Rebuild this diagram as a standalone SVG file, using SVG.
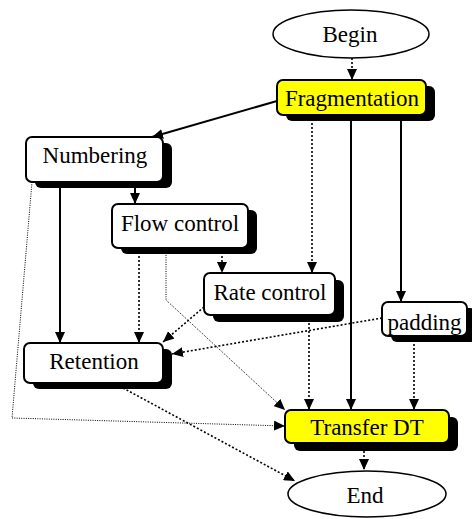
<svg xmlns="http://www.w3.org/2000/svg" width="472" height="519" viewBox="0 0 472 519">
  <style>
    text { font-family: 'Liberation Serif', 'DejaVu Serif', serif; font-size: 23px; fill: #000; text-anchor: middle; }
    .box { fill: #fff; stroke: #000; stroke-width: 2; }
    .hl { fill: #ffff00; }
    .shadow { fill: #000; stroke: none; }
    .term { fill: #fff; stroke: #000; stroke-width: 1.5; }
    .solid { fill: none; stroke: #000; stroke-width: 2; }
    .dot { fill: none; stroke: #000; stroke-width: 1.6; stroke-dasharray: 2 2; }
    .thin { fill: none; stroke: #000; stroke-width: 1; stroke-dasharray: 1 1.3; }
  </style>
  <defs>
    <marker id="arrow" markerUnits="userSpaceOnUse" markerWidth="11" markerHeight="10" refX="11" refY="5" orient="auto">
      <path d="M0,0 L11,5 L0,10 z" fill="#000"/>
    </marker>
  </defs>
  <rect width="472" height="519" fill="#fff"/>

  <!-- connectors -->
  <g id="connectors">
    <path class="dot" d="M352,58 L352,80" marker-end="url(#arrow)"/>
    <path class="solid" d="M277,101 L152,137" marker-end="url(#arrow)"/>
    <path class="dot" d="M312,115 L312,273" marker-end="url(#arrow)"/>
    <path class="solid" d="M351,115 L351,410" marker-end="url(#arrow)"/>
    <path class="solid" d="M401,115 L401,302" marker-end="url(#arrow)"/>
    <path class="solid" d="M135,182 L135,204" marker-end="url(#arrow)"/>
    <path class="solid" d="M60,182 L60,343" marker-end="url(#arrow)"/>
    <path class="thin" d="M32,182 L12,418 L285,426" marker-end="url(#arrow)"/>
    <path class="dot" d="M222,248 L222,273" marker-end="url(#arrow)"/>
    <path class="dot" d="M139,248 L139,343" marker-end="url(#arrow)"/>
    <path class="thin" d="M166,248 L166,300 L285,410" marker-end="url(#arrow)"/>
    <path class="dot" d="M204,307 L163,342" marker-end="url(#arrow)"/>
    <path class="dot" d="M309,315 L309,410" marker-end="url(#arrow)"/>
    <path class="dot" d="M382,318 L172,354" marker-end="url(#arrow)"/>
    <path class="dot" d="M414,336 L414,410" marker-end="url(#arrow)"/>
    <path class="dot" d="M123,388 L295,481" marker-end="url(#arrow)"/>
    <path class="dot" d="M364,443 L364,470" marker-end="url(#arrow)"/>
  </g>

  <!-- nodes -->
  <g id="begin">
    <ellipse class="term" cx="351" cy="34" rx="78" ry="24"/>
    <text x="350" y="42">Begin</text>
  </g>

  <g id="fragmentation">
    <rect class="shadow" x="286" y="86" width="149" height="35" rx="6"/>
    <rect class="box hl" x="277" y="80" width="149" height="35" rx="6"/>
    <text x="352" y="106">Fragmentation</text>
  </g>

  <g id="numbering">
    <rect class="shadow" x="35" y="143" width="137" height="45" rx="6"/>
    <rect class="box" x="26" y="137" width="137" height="45" rx="6"/>
    <text x="95" y="163">Numbering</text>
  </g>

  <g id="flow-control">
    <rect class="shadow" x="121" y="210" width="136" height="44" rx="6"/>
    <rect class="box" x="112" y="204" width="136" height="44" rx="6"/>
    <text x="180" y="231">Flow control</text>
  </g>

  <g id="rate-control">
    <rect class="shadow" x="213" y="280" width="131" height="42" rx="6"/>
    <rect class="box" x="204" y="273" width="131" height="42" rx="6"/>
    <text x="270" y="300">Rate control</text>
  </g>

  <g id="padding">
    <rect class="shadow" x="391" y="308" width="85" height="34" rx="6"/>
    <rect class="box" x="382" y="302" width="85" height="34" rx="6"/>
    <text x="424.5" y="330">padding</text>
  </g>

  <g id="retention">
    <rect class="shadow" x="33" y="349" width="139" height="40" rx="6"/>
    <rect class="box" x="24" y="343" width="139" height="40" rx="6"/>
    <text x="94" y="369">Retention</text>
  </g>

  <g id="transfer-dt">
    <rect class="shadow" x="294" y="417" width="164" height="34" rx="6"/>
    <rect class="box hl" x="285" y="410" width="164" height="33" rx="6"/>
    <text x="367" y="435">Transfer DT</text>
  </g>

  <g id="end">
    <ellipse class="term" cx="367" cy="494" rx="79" ry="23"/>
    <text x="365" y="503">End</text>
  </g>
</svg>
